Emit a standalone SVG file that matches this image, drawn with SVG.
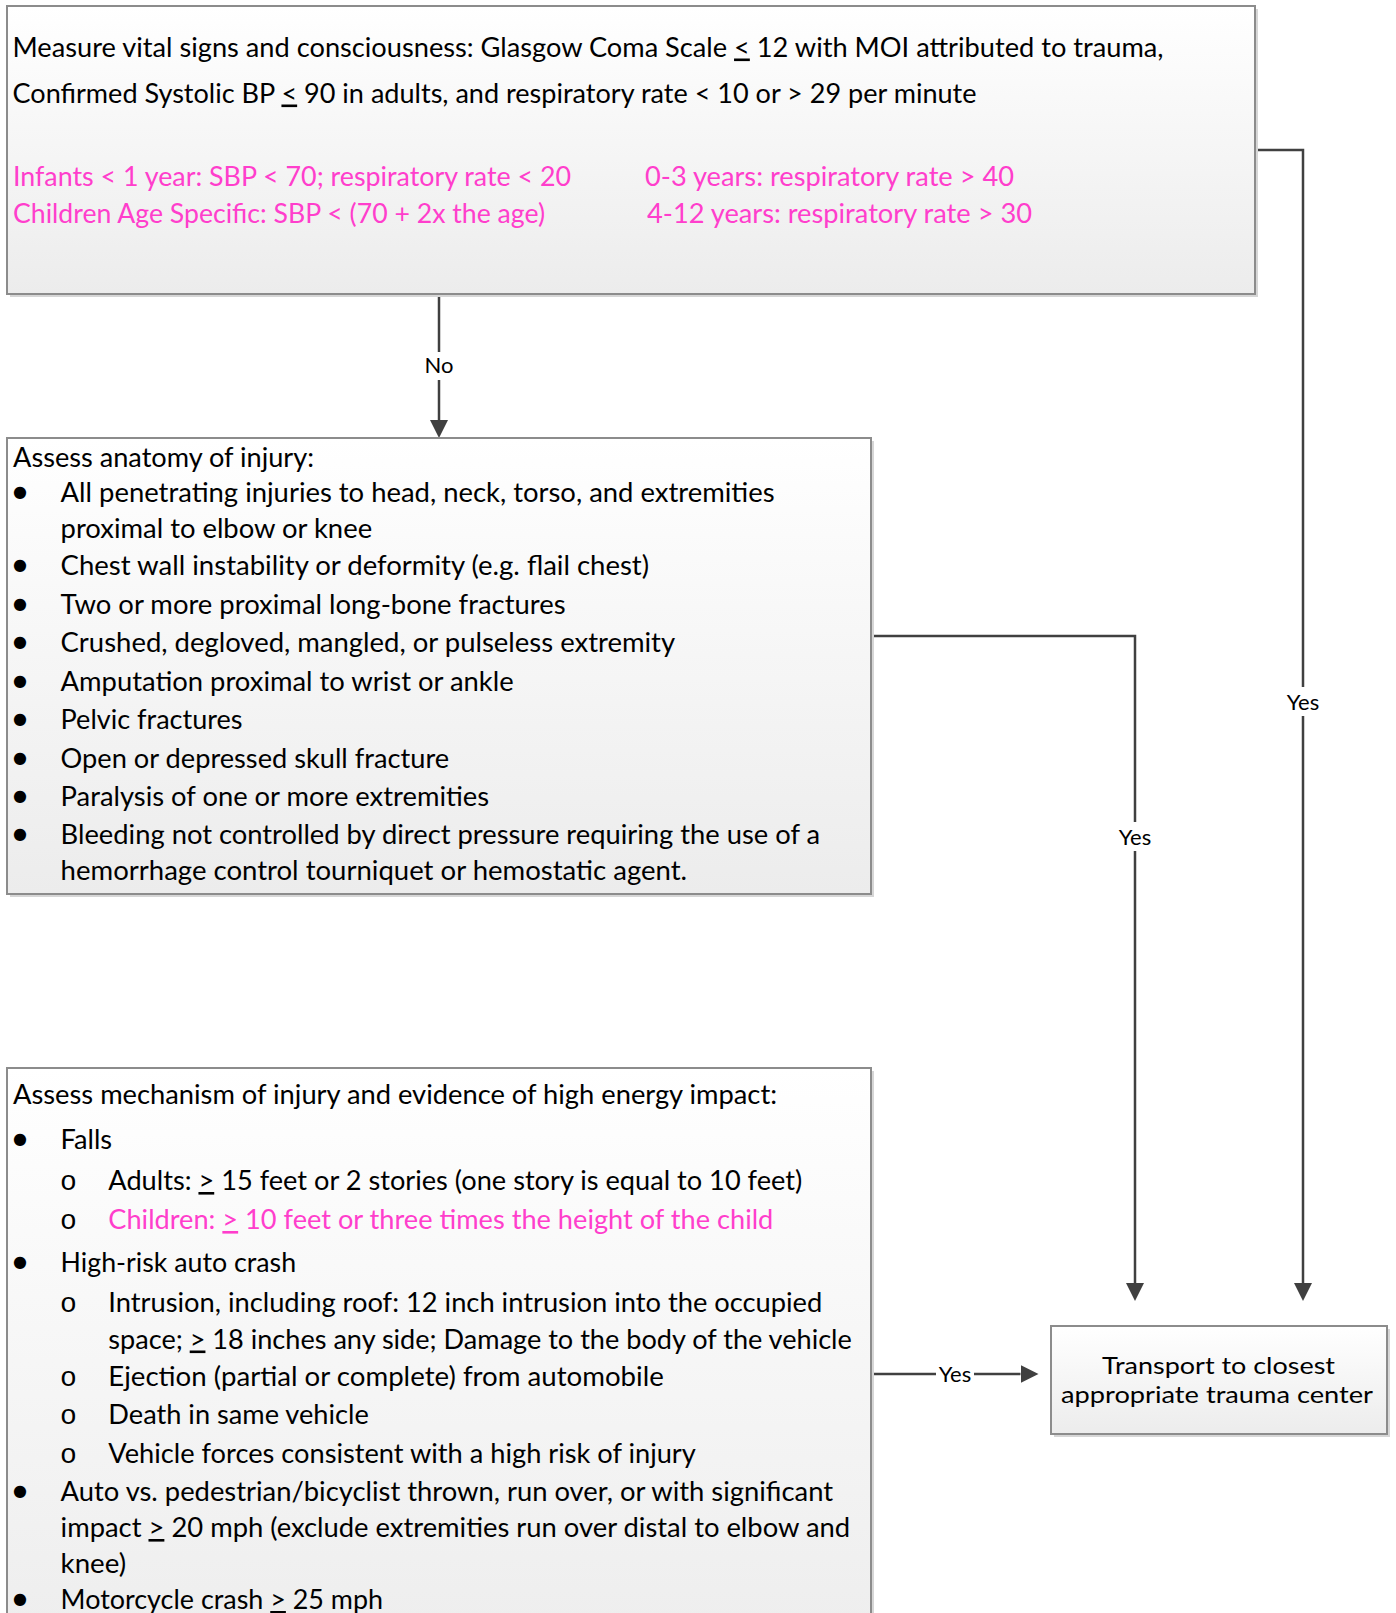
<svg xmlns="http://www.w3.org/2000/svg" width="1396" height="1613" viewBox="0 0 1396 1613">
<style>
.t{font-family:Lato,"Open Sans","Liberation Sans",sans-serif;font-size:26px;fill:#000}
.tt{font-family:Lato,"Open Sans","Liberation Sans",sans-serif;font-size:24px;fill:#000}
.p{fill:#ff3ecc}
.b{font-family:"DejaVu Sans",sans-serif;font-size:16px;fill:#000}
.o{font-family:"Liberation Mono",monospace;font-size:28px;fill:#000}
.lbl{font-family:Lato,"Open Sans","Liberation Sans",sans-serif;font-size:22px;fill:#000;text-anchor:middle}
.u{text-decoration:underline}
.box{fill:url(#g);stroke:#8c8c8c;stroke-width:2}
.sh{fill:#d6d6d6}
.c{fill:none;stroke:#404040;stroke-width:2.5}
.lb{fill:#fff}
</style>
<defs>
<linearGradient id="g" x1="0" y1="0" x2="0" y2="1">
<stop offset="0" stop-color="#ffffff"/>
<stop offset="1" stop-color="#ececec"/>
</linearGradient>
<marker id="ah" markerUnits="userSpaceOnUse" markerWidth="18" markerHeight="18" refX="0" refY="9" orient="auto" viewBox="0 0 18 18">
<path d="M0,0 L18,9 L0,18 z" fill="#404040"/>
</marker>
</defs>
<rect width="1396" height="1613" fill="#fff"/>

<g id="connectors">
<path class="c" d="M439,294 V420" marker-end="url(#ah)"/>
<path class="c" d="M1255,150 H1303 V1283" marker-end="url(#ah)"/>
<path class="c" d="M871,636 H1135 V1283" marker-end="url(#ah)"/>
<path class="c" d="M871,1374 H1020.5" marker-end="url(#ah)"/>
<rect class="lb" x="424" y="352" width="30" height="28"/>
<text class="lbl" x="439" y="373">No</text>
<rect class="lb" x="1285" y="687" width="36" height="29"/>
<text class="lbl" x="1303" y="710">Yes</text>
<rect class="lb" x="1117" y="822" width="36" height="29"/>
<text class="lbl" x="1135" y="845">Yes</text>
<rect class="lb" x="936" y="1362" width="38" height="24"/>
<text class="lbl" x="955" y="1382">Yes</text>
</g>

<g id="vitals">
<rect class="sh" x="10" y="9" width="1248" height="288"/>
<rect class="box" x="7" y="6" width="1248" height="288"/>
<text class="t" x="12.5" y="56.5" textLength="1151" lengthAdjust="spacingAndGlyphs">Measure vital signs and consciousness: Glasgow Coma Scale <tspan class="u">&lt;</tspan> 12 with MOI attributed to trauma,</text>
<text class="t" x="12.5" y="102.5" textLength="964" lengthAdjust="spacingAndGlyphs">Confirmed Systolic BP <tspan class="u">&lt;</tspan> 90 in adults, and respiratory rate &lt; 10 or &gt; 29 per minute</text>
<text class="t p" x="13" y="185.5" textLength="558" lengthAdjust="spacingAndGlyphs">Infants &lt; 1 year: SBP &lt; 70; respiratory rate &lt; 20</text>
<text class="t p" x="13" y="222.5" textLength="532" lengthAdjust="spacingAndGlyphs">Children Age Specific: SBP &lt; (70 + 2x the age)</text>
<text class="t p" x="645" y="185.5" textLength="369" lengthAdjust="spacingAndGlyphs">0-3 years: respiratory rate &gt; 40</text>
<text class="t p" x="647" y="222.5" textLength="385" lengthAdjust="spacingAndGlyphs">4-12 years: respiratory rate &gt; 30</text>
</g>

<g id="anatomy">
<rect class="sh" x="10" y="441" width="864" height="456"/>
<rect class="box" x="7" y="438" width="864" height="456"/>
<text class="t" x="13" y="467" textLength="301" lengthAdjust="spacingAndGlyphs">Assess anatomy of injury:</text>
<text class="b" x="13" y="497">●</text>
<text class="t" x="60.6" y="502" textLength="714" lengthAdjust="spacingAndGlyphs">All penetrating injuries to head, neck, torso, and extremities</text>
<text class="t" x="60.6" y="538" textLength="311.5" lengthAdjust="spacingAndGlyphs">proximal to elbow or knee</text>
<text class="b" x="13" y="570">●</text>
<text class="t" x="60.6" y="575" textLength="588.5" lengthAdjust="spacingAndGlyphs">Chest wall instability or deformity (e.g. flail chest)</text>
<text class="b" x="13" y="609">●</text>
<text class="t" x="60.6" y="614" textLength="505" lengthAdjust="spacingAndGlyphs">Two or more proximal long-bone fractures</text>
<text class="b" x="13" y="647">●</text>
<text class="t" x="60.6" y="652" textLength="614.5" lengthAdjust="spacingAndGlyphs">Crushed, degloved, mangled, or pulseless extremity</text>
<text class="b" x="13" y="686">●</text>
<text class="t" x="60.6" y="691" textLength="453" lengthAdjust="spacingAndGlyphs">Amputation proximal to wrist or ankle</text>
<text class="b" x="13" y="724">●</text>
<text class="t" x="60.6" y="729" textLength="182" lengthAdjust="spacingAndGlyphs">Pelvic fractures</text>
<text class="b" x="13" y="763">●</text>
<text class="t" x="60.6" y="768" textLength="388.5" lengthAdjust="spacingAndGlyphs">Open or depressed skull fracture</text>
<text class="b" x="13" y="801">●</text>
<text class="t" x="60.6" y="806" textLength="428.5" lengthAdjust="spacingAndGlyphs">Paralysis of one or more extremities</text>
<text class="b" x="13" y="839">●</text>
<text class="t" x="60.6" y="844" textLength="759.5" lengthAdjust="spacingAndGlyphs">Bleeding not controlled by direct pressure requiring the use of a</text>
<text class="t" x="60.6" y="880" textLength="626.5" lengthAdjust="spacingAndGlyphs">hemorrhage control tourniquet or hemostatic agent.</text>
</g>

<g id="mechanism">
<rect class="sh" x="10" y="1071" width="864" height="620"/>
<rect class="box" x="7" y="1068" width="864" height="620"/>
<text class="t" x="13" y="1104" textLength="764" lengthAdjust="spacingAndGlyphs">Assess mechanism of injury and evidence of high energy impact:</text>
<text class="b" x="13" y="1144">●</text>
<text class="t" x="60.6" y="1149" textLength="51.5" lengthAdjust="spacingAndGlyphs">Falls</text>
<text class="o" x="60" y="1190">o</text>
<text class="t" x="108.3" y="1190" textLength="694" lengthAdjust="spacingAndGlyphs">Adults: <tspan class="u">&gt;</tspan> 15 feet or 2 stories (one story is equal to 10 feet)</text>
<text class="o p" x="60" y="1229">o</text>
<text class="t p" x="108.3" y="1229" textLength="665" lengthAdjust="spacingAndGlyphs">Children: <tspan class="u">&gt;</tspan> 10 feet or three times the height of the child</text>
<text class="b" x="13" y="1267">●</text>
<text class="t" x="60.6" y="1272" textLength="235.5" lengthAdjust="spacingAndGlyphs">High-risk auto crash</text>
<text class="o" x="60" y="1312">o</text>
<text class="t" x="108.3" y="1312" textLength="714" lengthAdjust="spacingAndGlyphs">Intrusion, including roof: 12 inch intrusion into the occupied</text>
<text class="t" x="108.3" y="1348.5" textLength="743.5" lengthAdjust="spacingAndGlyphs">space; <tspan class="u">&gt;</tspan> 18 inches any side; Damage to the body of the vehicle</text>
<text class="o" x="60" y="1385.5">o</text>
<text class="t" x="108.3" y="1385.5" textLength="555.5" lengthAdjust="spacingAndGlyphs">Ejection (partial or complete) from automobile</text>
<text class="o" x="60" y="1424">o</text>
<text class="t" x="108.3" y="1424" textLength="260.5" lengthAdjust="spacingAndGlyphs">Death in same vehicle</text>
<text class="o" x="60" y="1463">o</text>
<text class="t" x="108.3" y="1463" textLength="587.5" lengthAdjust="spacingAndGlyphs">Vehicle forces consistent with a high risk of injury</text>
<text class="b" x="13" y="1496">●</text>
<text class="t" x="60.6" y="1501" textLength="772.5" lengthAdjust="spacingAndGlyphs">Auto vs. pedestrian/bicyclist thrown, run over, or with significant</text>
<text class="t" x="60.6" y="1537" textLength="789.5" lengthAdjust="spacingAndGlyphs">impact <tspan class="u">&gt;</tspan> 20 mph (exclude extremities run over distal to elbow and</text>
<text class="t" x="60.6" y="1573" textLength="65.5" lengthAdjust="spacingAndGlyphs">knee)</text>
<text class="b" x="13" y="1604">●</text>
<text class="t" x="60.6" y="1609" textLength="322.5" lengthAdjust="spacingAndGlyphs">Motorcycle crash <tspan class="u">&gt;</tspan> 25 mph</text>
</g>

<g id="transport">
<rect class="sh" x="1054" y="1329" width="336" height="108"/>
<rect class="box" x="1051" y="1326" width="336" height="108"/>
<text class="tt" x="1102" y="1373.5" textLength="233" lengthAdjust="spacingAndGlyphs">Transport to closest</text>
<text class="tt" x="1061" y="1402.5" textLength="312" lengthAdjust="spacingAndGlyphs">appropriate trauma center</text>
</g>
</svg>
